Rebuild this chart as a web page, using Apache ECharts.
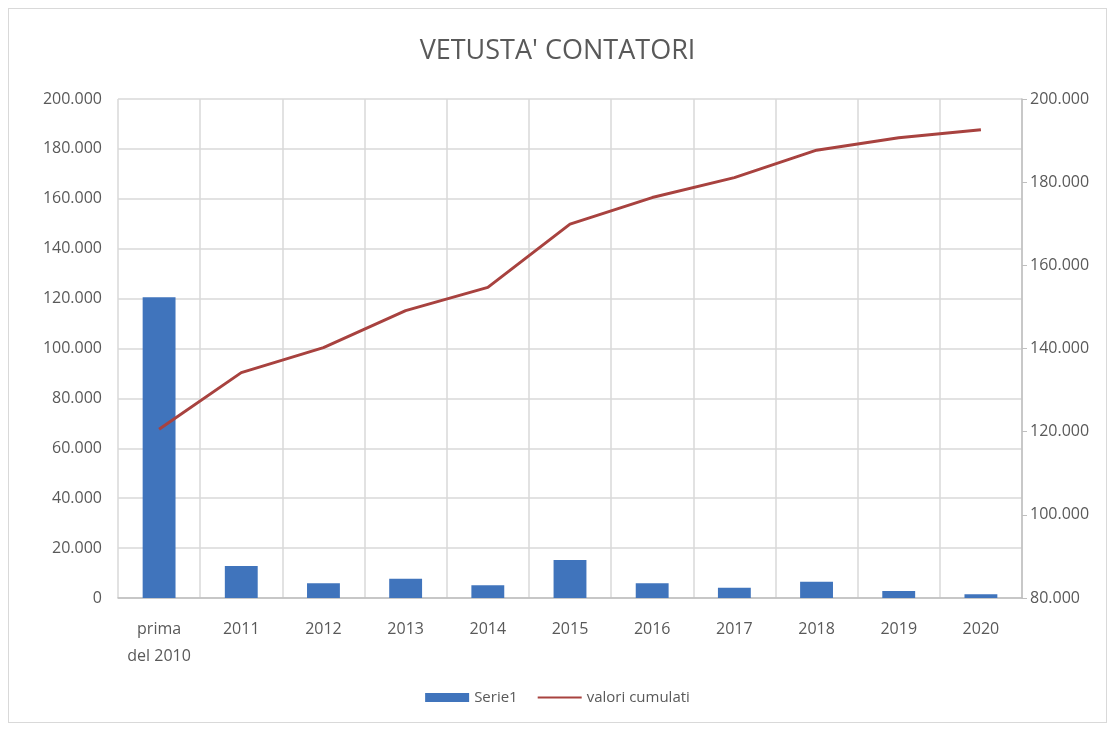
<!DOCTYPE html>
<html>
<head>
<meta charset="utf-8">
<script src="https://cdn.jsdelivr.net/npm/echarts@6/dist/echarts.min.js"></script>
<style>
  html, body { margin: 0; padding: 0; background: #fff; }
  #chart { position: absolute; left: 8px; top: 8px; width: 1097px; height: 713px; border: 1px solid #d9d9d9; }
</style>
</head>
<body>
<div id="chart"></div>
<script>
// categorie asse x
const categories = ["prima\ndel 2010", "2011", "2012", "2013", "2014", "2015", "2016", "2017", "2018", "2019", "2020"];
// contatori per anno (asse sinistro)
const serie1 = [120500, 12800, 5900, 7700, 5100, 15200, 5900, 4100, 6500, 2800, 1500];
// valori cumulati (asse destro)
const cumulati = [120600, 134200, 140200, 149100, 154700, 169900, 176300, 181100, 187700, 190700, 192600];

const fontFamily = "'Open Sans', 'Liberation Sans', sans-serif";
const textColor = "#595959";

function fmt(v) {
  return String(v).replace(/\B(?=(\d{3})+(?!\d))/g, ".");
}

const chart = echarts.init(document.getElementById("chart"));
chart.setOption({
  animation: false,
  title: {
    text: "VETUSTA' CONTATORI",
    left: "center",
    top: 24,
    textStyle: { fontFamily: fontFamily, fontSize: 27, fontWeight: "normal", color: textColor },
  },
  legend: {
    bottom: 12,
    left: "center",
    itemGap: 20,
    itemWidth: 44,
    itemHeight: 9,
    textStyle: { fontFamily: fontFamily, fontSize: 15, color: textColor },
    data: [
      { name: "Serie1", icon: "rect" },
      { name: "valori cumulati", icon: "path://M0,0 L44,0 L44,2 L0,2 Z" },
    ],
  },
  grid: { left: 109, right: 84, top: 90, bottom: 124 },
  xAxis: {
    type: "category",
    data: categories,
    axisTick: { show: false },
    axisLine: { lineStyle: { color: "#bfbfbf", width: 1.5 } },
    splitLine: { show: true, interval: 0, lineStyle: { color: "#d9d9d9", width: 1.5 } },
    axisLabel: { interval: 0, fontFamily: fontFamily, fontSize: 16, color: textColor, margin: 18, lineHeight: 27 },
  },
  yAxis: [
    {
      type: "value",
      min: 0,
      max: 200000,
      interval: 20000,
      axisLine: { show: false },
      axisTick: { show: false },
      splitLine: { lineStyle: { color: "#d9d9d9", width: 1.5 } },
      axisLabel: { fontFamily: fontFamily, fontSize: 16, color: textColor, margin: 16, formatter: fmt },
    },
    {
      type: "value",
      min: 80000,
      max: 200000,
      interval: 20000,
      position: "right",
      axisLine: { show: true, lineStyle: { color: "#bfbfbf", width: 1.5 } },
      axisTick: { show: true, length: 5, lineStyle: { color: "#bfbfbf" } },
      splitLine: { show: false },
      axisLabel: { fontFamily: fontFamily, fontSize: 16, color: textColor, margin: 8, formatter: fmt },
    },
  ],
  series: [
    {
      name: "Serie1",
      type: "bar",
      yAxisIndex: 0,
      barWidth: "40%",
      data: serie1,
      itemStyle: { color: "#4074bc" },
    },
    {
      name: "valori cumulati",
      type: "line",
      yAxisIndex: 1,
      data: cumulati,
      showSymbol: false,
      symbol: "none",
      lineStyle: { color: "#a8423f", width: 3 },
      itemStyle: { color: "#a8423f" },
    },
  ],
});
</script>
</body>
</html>
